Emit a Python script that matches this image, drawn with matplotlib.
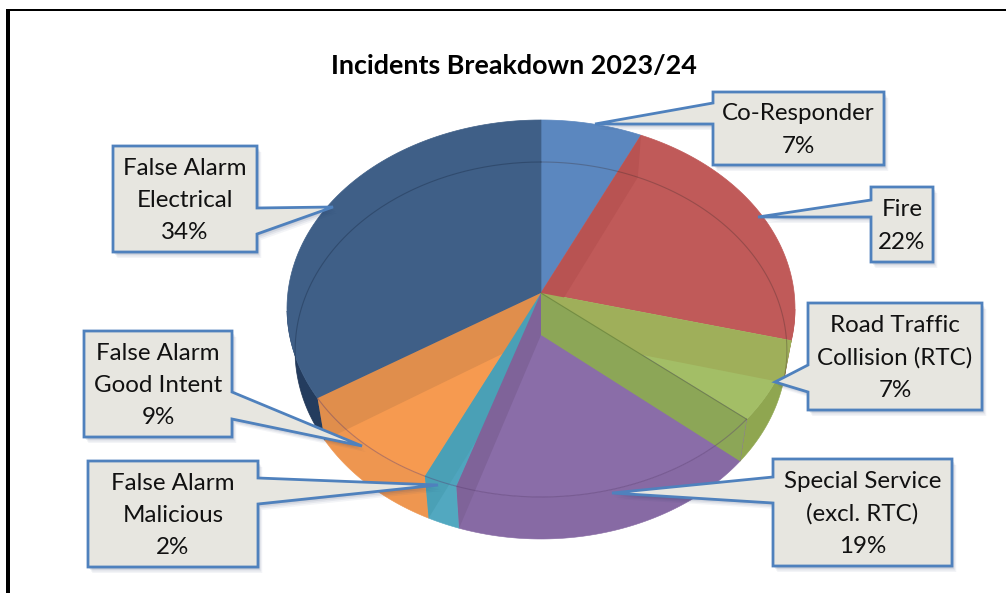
import numpy as np
import matplotlib
matplotlib.use("Agg")
import matplotlib.pyplot as plt
from matplotlib.patches import Polygon, Rectangle

categories = ["Co-Responder", "Fire", "Road Traffic\nCollision (RTC)",
              "Special Service\n(excl. RTC)", "False Alarm\nMalicious",
              "False Alarm\nGood Intent", "False Alarm\nElectrical"]
values = [7, 22, 7, 19, 2, 9, 34]
title = "Incidents Breakdown 2023/24"

top_colors = ["#5B87BF", "#C05A59", "#A3BE66", "#8A6DA8", "#4FA5BE", "#F69A50", "#3F5F87"]
rim_colors = ["#5B87BF", "#BC5656", "#8FA650", "#876AA4", "#52A8C0", "#EE9650", "#243C5E"]
# (boundary index, colour of the cut face), painted back to front
wall_specs = [(1, "#B85352"), (2, "#9FAF5A"), (3, "#8CA657"), (6, "#E08E4C"),
              (5, "#4AA0B6"), (4, "#7F6399")]

# callouts: box x0,x1,y0,y1 ; leader base a,b ; tip
callouts = [
    (713, 884, 92, 165, (713, 103), (713, 124), (595, 124)),
    (871, 933, 187, 262, (871, 200), (871, 217), (758, 217)),
    (808, 982, 303, 410, (808, 365), (808, 392), (775, 382)),
    (773, 952, 459, 566, (773, 477), (773, 503), (612, 493)),
    (88, 258, 461, 567, (258, 478), (258, 504), (438, 485)),
    (84, 232, 331, 437, (232, 392), (232, 419), (362, 446)),
    (113, 257, 146, 252, (257, 208), (257, 234), (333, 207)),
]

CX, CY, RX, RY, APEX, DEPTH, LOWER_X = 541, 308.5, 254, 188.5, 293, 42, 0.968
plt.rcParams["font.family"] = ["Lato", "DejaVu Sans"]

fig = plt.figure(figsize=(10.06, 5.93), dpi=100)
ax = fig.add_axes([0, 0, 1, 1])
ax.set_xlim(0, 1006)
ax.set_ylim(593, 0)
ax.axis("off")


def rim_point(frac, lower=False):
    """Ray from the off-centre apex to the ellipse, at a pie fraction."""
    frac = np.asarray(frac, float)
    th = 2 * np.pi * frac
    dx, dy = np.sin(th), -np.cos(th)
    a = (APEX - CY) / RY
    b = a * dy
    t = -b + np.sqrt(b * b - a * a + 1)
    x, y = RX * t * dx, CY + RY * (a + t * dy)
    if lower:
        return CX + x * LOWER_X, y + DEPTH
    return CX + x, y


def phi(frac):
    x, y = rim_point(frac)
    return np.degrees(np.arctan2(x - CX, -(y - CY))) % 360


vals = np.array(values, float)
edges = np.concatenate([[0], np.cumsum(vals)]) / vals.sum()

# outer rim on the front half
for i in range(len(vals)):
    f = np.linspace(edges[i], edges[i + 1], 160)
    p = phi(f)
    f = f[(p >= 90) & (p <= 270)]
    if len(f) < 2:
        continue
    x, y = rim_point(f)
    x2, y2 = rim_point(f, True)
    pts = np.column_stack([np.r_[x, x2[::-1]], np.r_[y, y2[::-1]]])
    ax.add_patch(Polygon(pts, closed=True, fc=rim_colors[i], ec=rim_colors[i], lw=0.4, zorder=2))

# top faces
for i in range(len(vals)):
    f = np.linspace(edges[i], edges[i + 1], 80)
    x, y = rim_point(f)
    pts = np.column_stack([np.r_[CX, x], np.r_[APEX, y]])
    ax.add_patch(Polygon(pts, closed=True, fc=top_colors[i], ec=top_colors[i], lw=0.5, zorder=3))

# cut faces
for b, col in wall_specs:
    x, y = rim_point(edges[b])
    x2, y2 = rim_point(edges[b], True)
    pts = [(CX, APEX), (x, y), (x2, y2), (CX, APEX + DEPTH)]
    ax.add_patch(Polygon(pts, closed=True, fc=col, ec="none", zorder=4))

# thin contour arcs
x, y = rim_point(np.linspace(0.0, edges[2], 100), True)
ax.plot(x, y, color="#3a2a2a", alpha=0.3, lw=0.8, zorder=5)
x, y = rim_point(np.linspace(edges[6] + 0.005, 1.0, 150), True)
ax.plot(x, y, color="#1f3350", alpha=0.45, lw=0.8, zorder=5)
x, y = rim_point(np.linspace(edges[2] + 0.07, edges[6], 150))
ax.plot(x, y, color="#5a3d70", alpha=0.4, lw=0.8, zorder=5)
x0, y0 = rim_point(edges[3])
ax.plot([CX, x0], [APEX, y0], color="#5f7a35", alpha=0.6, lw=0.8, zorder=5)

# callouts
for (x0, x1, y0, y1, a, b, tip), cat, val in zip(callouts, categories, values):
    if a[0] == x0:
        pts = [(x0, y0), (x1, y0), (x1, y1), (x0, y1), b, tip, a]
    else:
        pts = [(x0, y0), (x1, y0), a, tip, b, (x1, y1), (x0, y1)]
    for off, alpha in [(6, 0.05), (4.5, 0.07), (3, 0.09), (1.5, 0.12)]:
        ax.add_patch(Polygon([(px + off * 0.7, py + off) for px, py in pts], closed=True,
                             fc="#1F3864", ec="none", alpha=alpha, zorder=6))
    ax.add_patch(Polygon(pts, closed=True, fc="#E7E6E0", ec="#4F81BD", lw=2.0, joinstyle="miter", zorder=7))
    ax.text((x0 + x1) / 2, (y0 + y1) / 2 + 1.5, f"{cat}\n{val}%", ha="center", va="center",
            fontsize=17.4, color="#111111", linespacing=1.65, zorder=8)

ax.text(513.5, 66, title, ha="center", va="center", fontsize=19.4, fontweight="bold", color="black", zorder=8)

# frame
ax.add_patch(Rectangle((6, 9), 4, 600, fc="black", ec="none", zorder=9))
ax.add_patch(Rectangle((6, 9), 1000, 2.2, fc="black", ec="none", zorder=9))

fig.savefig("out.png", dpi=100)
